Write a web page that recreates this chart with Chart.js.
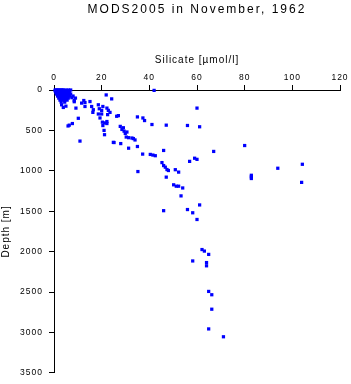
<!DOCTYPE html>
<html><head><meta charset="utf-8">
<script src="https://cdn.jsdelivr.net/npm/chart.js@4"></script>
<style>html,body{margin:0;padding:0;background:#fff;overflow:hidden}canvas{display:block}</style>
</head><body>
<canvas id="c" width="351" height="384"></canvas>
<script>
const chartTitle = 'MODS2005 in November, 1962';
const xAxisTitle = 'Silicate [µmol/l]';
const yAxisTitle = 'Depth [m]';
const xTickValues = [0, 20, 40, 60, 80, 100, 120];
const yTickValues = [0, 500, 1000, 1500, 2000, 2500, 3000, 3500];

// Silicate [µmol/l] and matching depth [m] of each sample
const silicate = [
  0.5,1,1.5,2,2.5,3,3.5,4,5,6,7,
  0.5,1.5,2.5,3.5,4.5,5.5,
  1,2,3,4,5,6.5,
  0.8,1.8,2.8,3.8,4.8,5.8,
  1,2,3,4,5,6,7,
  1.5,2.5,3.5,4.5,5.5,6.5,8,
  2,3,4,5,6,7.5,9,
  2.5,3.5,4.5,5.5,8.5,
  3,4.5,8.5,
  3.2,3.9,5,9.2,10.2,6.4,7.7,5.9,10.9,
  11.6,13,15.1,12.5,13,15.8,16.3,16.5,18.6,19,20,20.5,18.6,20,19.3,21.9,24.2,22.2,22.8,23.5,22.5,
  20.3,21.2,22.2,22.2,20.5,21,21.2,24.9,26.3,27,28,25.2,28.5,29.1,27.8,29.4,29.9,30.6,30.3,31.3,
  32.7,33.3,34,31.3,35,35,37.3,38,41.1,37.2,40.4,41.5,42.5,35.2,42,
  46,45.3,46,46.7,47.4,48,47.1,50.9,52.3,50.2,51.3,52.3,54,47.1,56,56.9,59,60,60,61.1,80,67,
  93.9,104.2,82.8,82.8,82.8,103.9,53.3,61.1,46,56,58.2,60,62.1,63.1,64.9,58.2,64,64,64.9,66.2,66.2,64.9,71.1
];
const depth = [
  0,0,0,0,0,0,0,0,0,0,0,
  10,10,10,10,10,10,
  20,20,20,20,20,20,
  30,30,30,30,30,30,
  50,50,50,50,50,50,50,
  75,75,75,75,75,75,75,
  100,100,100,100,100,95,100,
  125,125,125,125,130,
  150,150,145,
  183,216,200,224,350,435,415,445,632,
  162,155,143,130,204,204,277,244,183,232,252,204,297,297,346,61,110,224,252,277,305,
  398,407,415,390,440,500,553,648,325,317,663,650,488,467,450,509,537,520,582,590,
  594,601,618,720,699,333,346,378,427,793,797,805,813,1009,5,
  748,898,935,955,984,996,1078,986,1016,1173,1190,1190,1212,435,439,883,844,858,224,455,687,760,
  968,919,1055,1075,1095,1143,1310,1422,1493,1479,1519,1602,1974,1993,2034,2115,2135,2175,2492,2533,2712,2956,3053
];

const FONT = "'Liberation Sans', Arial, Helvetica, sans-serif";

const spacingPlugin = {
  id: 'spacing',
  beforeDraw(chart) { chart.ctx.letterSpacing = '1px'; },
  afterLayout(chart) {
    const tb = chart.titleBlock;
    if (tb && !tb._wrapped) {
      const orig = tb.draw.bind(tb);
      tb.draw = function (area) {
        const ctx = chart.ctx;
        const prev = ctx.letterSpacing;
        ctx.letterSpacing = '2px';
        orig(area);
        ctx.letterSpacing = prev;
      };
      tb._wrapped = true;
    }
  }
};

new Chart(document.getElementById('c'), {
  type: 'scatter',
  data: {
    datasets: [{
      data: silicate.map((s, i) => ({ x: s, y: depth[i] })),
      backgroundColor: '#0000ff',
      borderWidth: 0,
      pointStyle: 'rect',
      pointRadius: 2.3,
      pointHoverRadius: 2.3,
      clip: false
    }]
  },
  options: {
    responsive: false,
    animation: false,
    devicePixelRatio: 1,
    layout: { padding: { left: 0, right: 11, top: 0, bottom: 7 } },
    plugins: {
      legend: { display: false },
      tooltip: { enabled: false },
      title: {
        display: true,
        fullSize: false,
        text: chartTitle,
        color: '#000',
        font: { family: FONT, size: 12, weight: 'normal', lineHeight: '16px' },
        padding: { top: 2, bottom: 0 }
      }
    },
    scales: {
      x: {
        type: 'linear',
        position: 'top',
        min: 0, max: 120,
        afterBuildTicks: s => { s.ticks = xTickValues.map(v => ({ value: v })); },
        afterFit: s => { s.height = 72; },
        grid: { display: true, drawOnChartArea: false, drawTicks: true, tickLength: 5, color: '#000', lineWidth: 1 },
        border: { display: true, color: '#000', width: 1 },
        ticks: { color: '#000', padding: 2, maxRotation: 0, font: { family: FONT, size: 8.5 },
                 callback: v => String(v) },
        title: { display: true, text: xAxisTitle, color: '#000', padding: { top: 36, bottom: 0 },
                 font: { family: FONT, size: 10, lineHeight: '12px' } }
      },
      y: {
        type: 'linear',
        position: 'left',
        reverse: true,
        min: 0, max: 3500,
        afterBuildTicks: s => { s.ticks = yTickValues.map(v => ({ value: v })); },
        afterFit: s => { s.width = 54; },
        grid: { display: true, drawOnChartArea: false, drawTicks: true, tickLength: 5, color: '#000', lineWidth: 1 },
        border: { display: true, color: '#000', width: 1 },
        ticks: { color: '#000', padding: 6, font: { family: FONT, size: 8.5 },
                 callback: v => String(v) },
        title: { display: true, text: yAxisTitle, color: '#000', padding: { top: 0, bottom: 0 },
                 font: { family: FONT, size: 10, lineHeight: '12px' } }
      }
    }
  },
  plugins: [spacingPlugin]
});
</script>
</body></html>
